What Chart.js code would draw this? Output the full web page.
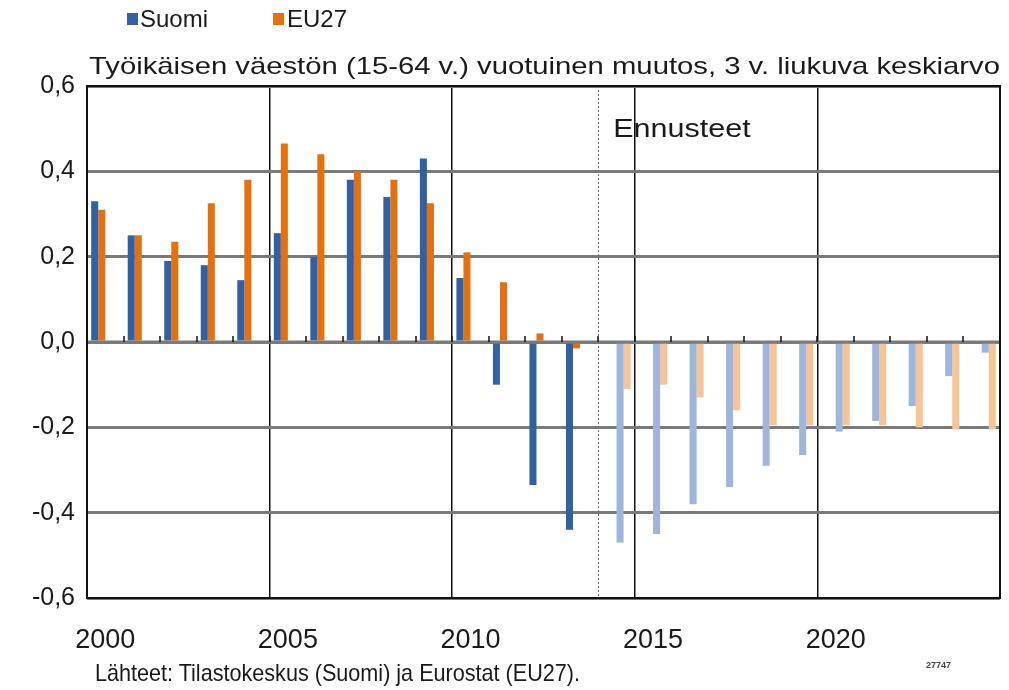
<!DOCTYPE html>
<html>
<head>
<meta charset="utf-8">
<script src="https://cdn.jsdelivr.net/npm/chart.js@4/dist/chart.umd.min.js"></script>
<style>
  html, body { margin: 0; padding: 0; background: #fff; }
  #wrap { position: relative; width: 1009px; height: 690px; overflow: hidden; font-family: "Liberation Sans", Arial, sans-serif; color: #1a1a1a; }
  #c { position: absolute; left: 0; top: 0; }
  .t { position: absolute; white-space: nowrap; line-height: 1; transform-origin: 0 0; }
  .sq { position: absolute; width: 11px; height: 12px; }
</style>
</head>
<body>
<div id="wrap">
  <canvas id="c" width="1009" height="690"></canvas>
  <div class="sq" id="sq1" style="left:127px; top:13px;"></div>
  <div class="t" id="lg1" style="left:140px; top:7px; font-size:24px;"></div>
  <div class="sq" id="sq2" style="left:273px; top:13px;"></div>
  <div class="t" id="lg2" style="left:287px; top:7px; font-size:24px;"></div>
  <div class="t" id="title" style="left:89px; top:54px; font-size:24px;"></div>
  <div class="t" id="foot" style="left:95px; top:661px; font-size:24px;"></div>
  <div class="t" id="code" style="left:926px; top:661px; font-size:9px; font-weight:bold; color:#444;"></div>
</div>
<script>
// ---- data ----
const years = ['2000','2001','2002','2003','2004','2005','2006','2007','2008','2009','2010','2011','2012','2013','2014','2015','2016','2017','2018','2019','2020','2021','2022','2023','2024'];
const suomiHist = [0.33, 0.25, 0.19, 0.18, 0.145, 0.255, 0.20, 0.38, 0.34, 0.43, 0.15, -0.10, -0.335, -0.44, null, null, null, null, null, null, null, null, null, null, null];
const eu27Hist  = [0.31, 0.25, 0.235, 0.325, 0.38, 0.465, 0.44, 0.40, 0.38, 0.325, 0.21, 0.14, 0.02, -0.015, null, null, null, null, null, null, null, null, null, null, null];
const suomiFc   = [null, null, null, null, null, null, null, null, null, null, null, null, null, null, -0.47, -0.45, -0.38, -0.34, -0.29, -0.265, -0.21, -0.185, -0.15, -0.08, -0.025];
const eu27Fc    = [null, null, null, null, null, null, null, null, null, null, null, null, null, null, -0.11, -0.10, -0.13, -0.16, -0.195, -0.195, -0.195, -0.195, -0.20, -0.205, -0.205];
const yTicks = [-0.6, -0.4, -0.2, 0.0, 0.2, 0.4, 0.6];
const seriesNames = ['Suomi', 'EU27'];
const titleText = 'Työikäisen väestön (15-64 v.) vuotuinen muutos, 3 v. liukuva keskiarvo';
const forecastLabel = 'Ennusteet';
const forecastStart = '2014';
const sourceText = 'Lähteet: Tilastokeskus (Suomi) ja Eurostat (EU27).';
const codeText = '27747';

const colSuomi = '#34609f', colEU = '#e4700f', colSuomiFc = '#9fb5dc', colEUFc = '#f7c497';

// ---- html texts ----
document.getElementById('sq1').style.background = colSuomi;
document.getElementById('sq2').style.background = colEU;
document.getElementById('lg1').textContent = seriesNames[0];
document.getElementById('lg2').textContent = seriesNames[1];
document.getElementById('title').textContent = titleText;
document.getElementById('foot').textContent = sourceText;
document.getElementById('code').textContent = codeText;
function fitWidth(id, w) {
  const el = document.getElementById(id);
  const r = el.getBoundingClientRect().width;
  el.style.transform = 'scaleX(' + (w / r) + ')';
}
fitWidth('title', 911);
fitWidth('foot', 485);

const fmt = v => Math.abs(v) < 1e-9 ? '0,0' : v.toFixed(1).replace('.', ',');

const overlay = {
  id: 'overlay',
  beforeDatasetsDraw(chart) {
    const { ctx, chartArea: a, scales: { x, y } } = chart;
    const step = x.getPixelForValue(1) - x.getPixelForValue(0);
    const fi = years.indexOf(forecastStart);
    const fx = Math.round(x.getPixelForValue(fi) - step / 2) + 0.5;
    ctx.save();
    ctx.strokeStyle = '#777';
    ctx.lineWidth = 1;
    ctx.setLineDash([2, 2]);
    ctx.beginPath(); ctx.moveTo(fx, a.top); ctx.lineTo(fx, a.bottom); ctx.stroke();
    ctx.restore();
  },
  afterDatasetsDraw(chart) {
    const { ctx, chartArea: a, scales: { x, y } } = chart;
    const step = x.getPixelForValue(1) - x.getPixelForValue(0);
    const y0 = y.getPixelForValue(0);
    ctx.save();
    ctx.strokeStyle = '#7a7a7a';
    ctx.lineWidth = 3;
    ctx.beginPath(); ctx.moveTo(a.left, y0); ctx.lineTo(a.right, y0); ctx.stroke();
    ctx.strokeStyle = '#111';
    ctx.lineWidth = 1.5;
    for (let i = 1; i < years.length; i++) {
      const bx = Math.round(x.getPixelForValue(i) - step / 2);
      ctx.beginPath(); ctx.moveTo(bx, y0 - 6); ctx.lineTo(bx, y0); ctx.stroke();
    }
    ctx.strokeStyle = '#111';
    ctx.lineWidth = 2;
    ctx.strokeRect(a.left, a.top, a.right - a.left, a.bottom - a.top);
    const fi = years.indexOf(forecastStart);
    const fx = x.getPixelForValue(fi) - step / 2;
    ctx.fillStyle = '#1a1a1a';
    ctx.font = '25px "Liberation Sans", Arial, sans-serif';
    ctx.textBaseline = 'alphabetic';
    ctx.translate(fx + 15, y.getPixelForValue(0.48));
    ctx.scale(1.22, 1);
    ctx.fillText(forecastLabel, 0, 0);
    ctx.restore();
  }
};

new Chart(document.getElementById('c'), {
  type: 'bar',
  data: {
    labels: years,
    datasets: [
      { label: seriesNames[0], data: suomiHist, backgroundColor: colSuomi },
      { label: seriesNames[1], data: eu27Hist, backgroundColor: colEU },
      { label: seriesNames[0] + ' (ennuste)', data: suomiFc, backgroundColor: colSuomiFc },
      { label: seriesNames[1] + ' (ennuste)', data: eu27Fc, backgroundColor: colEUFc }
    ]
  },
  options: {
    responsive: false,
    devicePixelRatio: 1,
    animation: false,
    layout: { padding: { top: 86, right: 9, left: 0, bottom: 0 } },
    datasets: { bar: { categoryPercentage: 0.77, barPercentage: 1.0, borderWidth: 0 } },
    plugins: { legend: { display: false }, title: { display: false }, tooltip: { enabled: false } },
    scales: {
      x: {
        offset: true,
        afterFit(s) { s.height = 92; },
        grid: {
          offset: true,
          drawTicks: false,
          lineWidth: 1.5,
          color: c => (c.index > 0 && c.index % 5 === 0) ? '#111' : 'rgba(0,0,0,0)'
        },
        border: { display: false },
        ticks: {
          autoSkip: false, maxRotation: 0, padding: 26,
          color: '#1a1a1a',
          font: { family: '"Liberation Sans", Arial, sans-serif', size: 27 },
          callback: (v, i) => i % 5 === 0 ? years[i] : ''
        }
      },
      y: {
        min: yTicks[0], max: yTicks[yTicks.length - 1],
        afterFit(s) { s.width = 87; },
        afterBuildTicks(s) { s.ticks = yTicks.map(v => ({ value: v })); },
        grid: { color: '#7a7a7a', lineWidth: 3, drawTicks: false },
        border: { display: false },
        ticks: {
          padding: 12,
          color: '#1a1a1a',
          font: { family: '"Liberation Sans", Arial, sans-serif', size: 25 },
          callback: v => fmt(v)
        }
      }
    }
  },
  plugins: [overlay]
});
</script>
</body>
</html>
